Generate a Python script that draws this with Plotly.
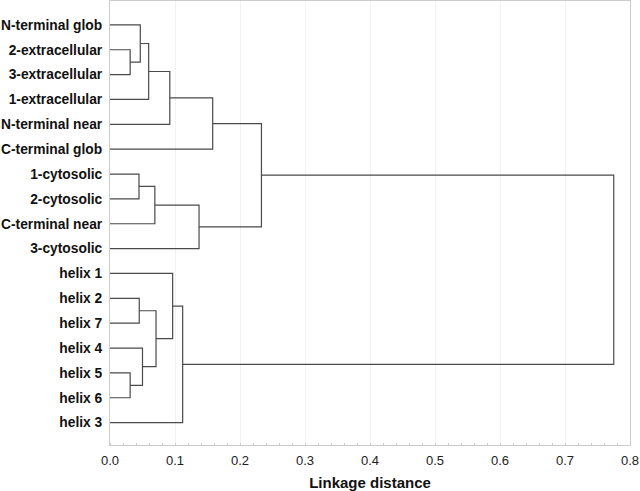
import plotly.graph_objects as go

# Leaves, top to bottom
leaf_labels = ["N-terminal glob", "2-extracellular", "3-extracellular", "1-extracellular",
               "N-terminal near", "C-terminal glob", "1-cytosolic", "2-cytosolic",
               "C-terminal near", "3-cytosolic", "helix 1", "helix 2", "helix 7",
               "helix 4", "helix 5", "helix 6", "helix 3"]

# Merges: (child_a, child_b, linkage distance). Leaves referenced by label,
# merged clusters by "m<index>".
merge_a = ["2-extracellular", "N-terminal glob", "m1", "m2", "m3",
           "1-cytosolic", "m5", "m6", "m4",
           "helix 2", "helix 5", "helix 4", "m9", "helix 1", "m13", "m8"]
merge_b = ["3-extracellular", "m0", "1-extracellular", "N-terminal near", "C-terminal glob",
           "2-cytosolic", "C-terminal near", "3-cytosolic", "m7",
           "helix 7", "helix 6", "m10", "m11", "m12", "helix 3", "m14"]
merge_dist = [0.031, 0.0466, 0.0595, 0.092, 0.158,
              0.0446, 0.069, 0.137, 0.233,
              0.045, 0.031, 0.050, 0.0708, 0.0964, 0.1118, 0.775]

x_ticks = [0.0, 0.1, 0.2, 0.3, 0.4, 0.5, 0.6, 0.7, 0.8]

pos = {lab: (0.0, i + 1) for i, lab in enumerate(leaf_labels)}
xs, ys = [], []
for i, (a, b, d) in enumerate(zip(merge_a, merge_b, merge_dist)):
    xa, ya = pos[a]
    xb, yb = pos[b]
    xs += [xa, d, d, xb, None]
    ys += [ya, ya, yb, yb, None]
    pos[f"m{i}"] = (d, (ya + yb) / 2)

line_col = "#4a4a4a"
fig = go.Figure()
fig.add_trace(go.Scatter(x=xs, y=ys, mode="lines",
                         line=dict(color=line_col, width=1.2),
                         hoverinfo="skip", showlegend=False))

fig.update_layout(
    width=640, height=491,
    margin=dict(l=110, r=10, t=1, b=46),
    paper_bgcolor="white", plot_bgcolor="white",
    font=dict(family="Liberation Sans, Arial, sans-serif", color="#111111"),
    xaxis=dict(range=[0, 0.8], tickvals=x_ticks,
               ticktext=[f"{v:.1f}" for v in x_ticks],
               tickfont=dict(size=13, color="#222222"),
               showgrid=True, gridcolor="#f2f2f2", gridwidth=1,
               zeroline=False, showline=True, linecolor="#cccccc", linewidth=1,
               mirror=True, ticks="", automargin=False, ticklabelstandoff=3,
               minor=dict(dtick=0.02, ticks="inside", ticklen=2, tickcolor="#cccccc"),
               title=dict(text="<b>Linkage distance</b>", font=dict(size=15, color="#111111"),
                          standoff=13)),
    yaxis=dict(range=[17.9, 0.04], tickvals=list(range(1, len(leaf_labels) + 1)),
               ticktext=[f"<b>{t}</b>" for t in leaf_labels],
               tickfont=dict(size=13.8, color="#111111"),
               showgrid=False, zeroline=False, showline=True, linecolor="#cccccc",
               linewidth=1, mirror=True, ticks="", ticklabelstandoff=4, automargin=False),
)

fig.write_html("out.html", config={"displayModeBar": False},
               post_script="document.body.style.margin='0';")
